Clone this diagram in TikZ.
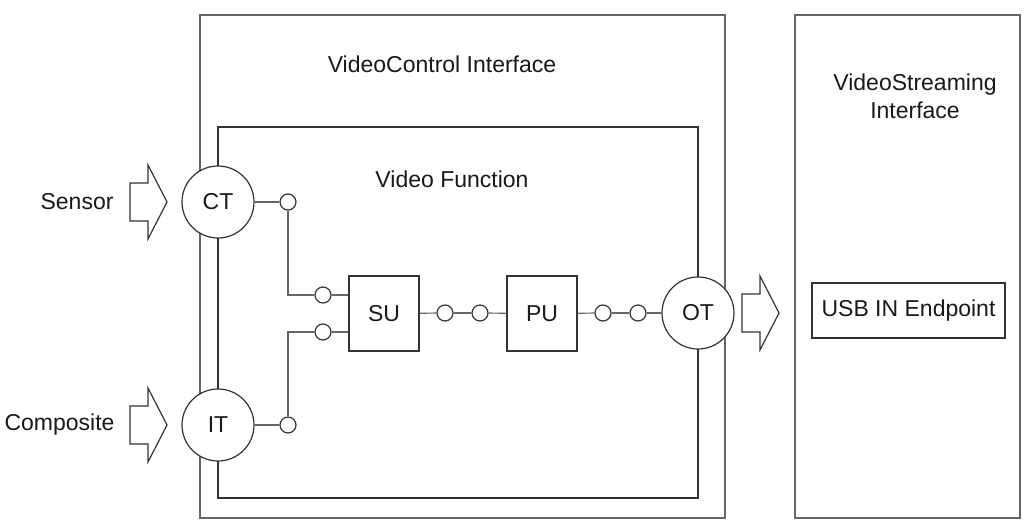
\documentclass[tikz,border=0pt]{standalone}
\usepackage{fontspec}
\setmainfont{Liberation Sans}
\begin{document}
\begin{tikzpicture}[x=1pt,y=-1pt,
  every node/.style={font=\fontsize{23}{28}\selectfont, text=black!90},
  frame/.style={draw=black!60, line width=1.2pt, inner sep=0pt},
  box/.style={draw=black!80, line width=1.2pt, inner sep=0pt},
  term/.style={circle, draw=black!80, line width=1.2pt, minimum size=72pt, inner sep=0pt, fill=white},
  pin/.style={circle, draw=black!80, line width=1.2pt, minimum size=16pt, inner sep=0pt, fill=white},
  wire/.style={draw=black!60, line width=1.2pt},
  fatarrow/.pic={\draw[draw=black!80, line width=1.2pt, fill=white, line join=miter]
     (0,-19) -- (18,-19) -- (18,-37) -- (37,0) -- (18,37) -- (18,19) -- (0,19) -- cycle;}
]
\useasboundingbox (0,0) rectangle (1036,530);
\fill[white] (0,0) rectangle (1036,530);

% frames
\node[frame, minimum width=525pt, minimum height=503pt] (vc) at (462.5,266.5) {};
\node[frame, minimum width=225pt, minimum height=503pt] (vs) at (907.5,266.5) {};
\node[box, minimum width=480pt, minimum height=371pt] (vf) at (458,312.5) {};

% titles
\node (vctitle) at (442,64) {VideoControl Interface};
\node (vftitle) at (452,179) {Video Function};
\node[align=center] (vstitle) at (915,96) {VideoStreaming\\Interface};

% USB endpoint
\node[box, minimum width=193pt, minimum height=55pt] (usb) at (908.5,310.5) {USB IN Endpoint};

% units
\node[box, minimum width=70pt, minimum height=75pt] (su) at (384,313.5) {SU};
\node[box, minimum width=70pt, minimum height=75pt] (pu) at (542,313.5) {PU};

% terminals
\node[term] (ct) at (218,202) {CT};
\node[term] (it) at (218,425) {IT};
\node[term] (ot) at (698,313) {OT};

% pins
\node[pin] (pct) at (288,202) {};
\node[pin] (pit) at (288,425) {};
\node[pin] (psu1) at (323,295) {};
\node[pin] (psu2) at (323,332) {};
\node[pin] (psu3) at (445,313) {};
\node[pin] (ppu1) at (480,313) {};
\node[pin] (ppu2) at (603,313) {};
\node[pin] (pot) at (638,313) {};

% wires
\draw[wire] (ct) -- (pct);
\draw[wire] (it) -- (pit);
\draw[wire] (pct) -- (pct |- psu1) -- (psu1);
\draw[wire] (pit) -- (pit |- psu2) -- (psu2);
\draw[wire] (psu1) -- (su.west |- psu1);
\draw[wire] (psu2) -- (su.west |- psu2);
\draw[wire] (su) -- (psu3);
\draw[wire] (psu3) -- (ppu1);
\draw[wire] (ppu1) -- (pu);
\draw[wire] (pu) -- (ppu2);
\draw[wire] (ppu2) -- (pot);
\draw[wire] (pot) -- (ot);

% big arrows
\pic at (130,202) {fatarrow};
\pic at (130,425) {fatarrow};
\pic at (742,313) {fatarrow};

% external labels
\node[anchor=east] (sensor) at (117,202) {Sensor};
\node[anchor=east] (composite) at (118,425) {Composite};
\end{tikzpicture}
\end{document}
